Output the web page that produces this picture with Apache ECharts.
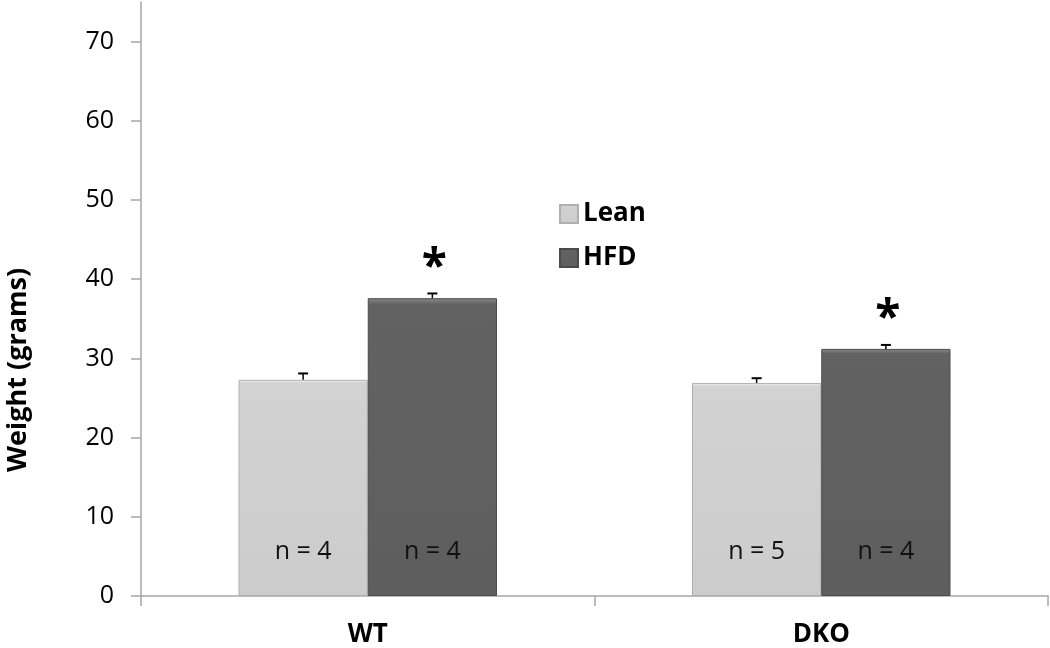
<!DOCTYPE html>
<html>
<head>
<meta charset="utf-8">
<script src="https://cdn.jsdelivr.net/npm/echarts@6/dist/echarts.min.js"></script>
<style>html,body{margin:0;padding:0;background:#fff}#c{width:1050px;height:648px}</style>
</head>
<body>
<div id="c"></div>
<script>
const categories = ['WT', 'DKO'];
const leanValues = [27.3, 26.9];
const hfdValues = [37.6, 31.2];
const leanErr = [0.8, 0.6];
const hfdErr = [0.6, 0.5];
const leanN = [4, 5];
const hfdN = [4, 4];
const hfdSignificant = [true, true];
const yTicks = [0, 10, 20, 30, 40, 50, 60, 70];
const yTitle = 'Weight (grams)';

const FONT = 'Open Sans';
const CAT_GAP = 0.43;

function errData(vals, errs, sig) {
  return vals.map((v, i) => [i, v, errs[i], sig ? (sig[i] ? 1 : 0) : 0]);
}
function makeErr(side) {
  return function (params, api) {
    const i = api.value(0), v = api.value(1), e = api.value(2), star = api.value(3);
    const band = api.size([1, 0])[0];
    const bw = band * (1 - CAT_GAP) / 2;
    const c = api.coord([i, v]);
    const x = c[0] + side * bw / 2;
    const top = api.coord([i, v + e])[1];
    const children = [
      { type: 'line', shape: { x1: x, y1: c[1], x2: x, y2: top }, style: { stroke: '#000', lineWidth: 1.5 } },
      { type: 'line', shape: { x1: x - 5, y1: top, x2: x + 5, y2: top }, style: { stroke: '#000', lineWidth: 2 } }
    ];
    if (star) {
      children.push({ type: 'text', x: x + 2, y: top - 2, style: { text: '*', font: 'bold 46px "' + FONT + '"', fill: '#000', align: 'center', verticalAlign: 'bottom' } });
    }
    return { type: 'group', children: children };
  };
}

const chart = echarts.init(document.getElementById('c'));
chart.setOption({
  animation: false,
  backgroundColor: '#fff',
  grid: { left: 141, right: 2, top: 2, bottom: 52, containLabel: false, outerBoundsMode: 'none' },
  graphic: [{
    type: 'text', x: 18, y: 370, rotation: Math.PI / 2,
    style: { text: yTitle, font: 'bold 27px "' + FONT + '"', fill: '#000', align: 'center', verticalAlign: 'middle' }
  }],
  legend: {
    orient: 'vertical', left: 554, top: 196, icon: 'rect',
    itemWidth: 18, itemHeight: 18, itemGap: 18,
    textStyle: { fontFamily: FONT, fontSize: 26, fontWeight: 'bold', color: '#000', lineHeight: 26 },
    data: ['Lean', 'HFD']
  },
  xAxis: {
    type: 'category', data: categories,
    axisLine: { lineStyle: { color: '#a6a6a6', width: 1.5 } },
    axisTick: { show: true, length: 10, lineStyle: { color: '#a6a6a6', width: 1.5 } },
    axisLabel: { fontFamily: FONT, fontSize: 26, fontWeight: 'bold', color: '#000', margin: 26 }
  },
  yAxis: {
    type: 'value', min: 0, max: 75, interval: 10,
    axisLine: { show: true, lineStyle: { color: '#a6a6a6', width: 1.5 } },
    axisTick: { show: true, length: 10, lineStyle: { color: '#a6a6a6', width: 1.5 },
      customValues: yTicks },
    axisLabel: { fontFamily: FONT, fontSize: 25, color: '#000', margin: 27, customValues: yTicks },
    splitLine: { show: false }
  },
  series: [
    {
      name: 'Lean', type: 'bar', data: leanValues, barGap: '0%', barCategoryGap: (CAT_GAP * 100) + '%',
      itemStyle: {
        color: new echarts.graphic.LinearGradient(0, 0, 0, 1, [
          { offset: 0, color: '#f2f2f2' }, { offset: 0.015, color: '#d2d2d2' }, { offset: 1, color: '#cccccc' }
        ]),
        borderColor: '#b0b0b0', borderWidth: 1
      },
      label: {
        show: true, position: 'insideBottom', distance: 32,
        formatter: p => 'n = ' + leanN[p.dataIndex],
        fontFamily: FONT, fontSize: 25, color: '#111'
      }
    },
    {
      name: 'HFD', type: 'bar', data: hfdValues, barGap: '0%', barCategoryGap: (CAT_GAP * 100) + '%',
      itemStyle: {
        color: new echarts.graphic.LinearGradient(0, 0, 0, 1, [
          { offset: 0, color: '#8a8a8a' }, { offset: 0.02, color: '#626262' }, { offset: 1, color: '#5e5e5e' }
        ]),
        borderColor: '#4a4a4a', borderWidth: 1
      },
      label: {
        show: true, position: 'insideBottom', distance: 32,
        formatter: p => 'n = ' + hfdN[p.dataIndex],
        fontFamily: FONT, fontSize: 25, color: '#111'
      }
    },
    {
      type: 'custom', renderItem: makeErr(-1), data: errData(leanValues, leanErr, null), z: 5, silent: true
    },
    {
      type: 'custom', renderItem: makeErr(1), data: errData(hfdValues, hfdErr, hfdSignificant), z: 5, silent: true
    }
  ]
});
</script>
</body>
</html>
